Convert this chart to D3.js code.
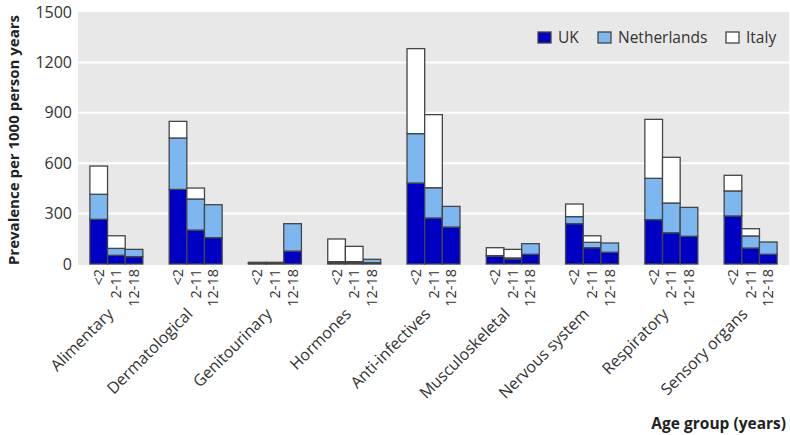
<!DOCTYPE html>
<html lang="en">
<head>
  <meta charset="UTF-8" />
  <title>Prevalence by age group</title>
  <script src="https://cdnjs.cloudflare.com/ajax/libs/d3/7.8.4/d3.min.js"></script>
  <style>
    body {
      margin: 0;
      background: #fff;
      font-family: "Open Sans", "Noto Sans", sans-serif;
      overflow: hidden;
    }
  </style>
</head>
<body>
  <svg id="chart" width="790" height="435"></svg>
  <script>
    const categories = ["Alimentary", "Dermatological", "Genitourinary", "Hormones",
      "Anti-infectives", "Musculoskeletal", "Nervous system", "Respiratory", "Sensory organs"];
    const ageGroups = ["<2", "2-11", "12-18"];
    const countries = ["UK", "Netherlands", "Italy"];

    // segment sizes per country, order per category: <2, 2-11, 12-18
    const uk = [
      266, 52, 44,
      444, 202, 157,
      3, 3, 77,
      8, 8, 8,
      482, 274, 220,
      46, 30, 58,
      240, 97, 70,
      264, 186, 165,
      286, 95, 58
    ];
    const netherlands = [
      149, 41, 43,
      306, 185, 196,
      3, 3, 163,
      6, 6, 20,
      294, 180, 123,
      4, 6, 63,
      42, 32, 55,
      246, 177, 172,
      149, 72, 73
    ];
    const italy = [
      168, 75, 0,
      99, 65, 0,
      4, 4, 0,
      135, 91, 0,
      506, 435, 0,
      47, 51, 0,
      75, 39, 0,
      351, 272, 0,
      93, 43, 0
    ];

    const colors = { "UK": "#0000c4", "Netherlands": "#7db7f0", "Italy": "#ffffff" };

    const rows = [];
    categories.forEach((c, i) => {
      ageGroups.forEach((a, j) => {
        const k = i * 3 + j;
        rows.push({ category: c, age: a, UK: uk[k], Netherlands: netherlands[k], Italy: italy[k] });
      });
    });

    const margin = { top: 12, right: 1, bottom: 171, left: 78 };
    const width = 790, height = 435;
    const svg = d3.select("#chart");

    const x0 = d3.scaleBand()
      .domain(categories)
      .range([margin.left, width - margin.right])
      .paddingInner(0.332)
      .paddingOuter(0.15);

    const x1 = d3.scaleBand()
      .domain(ageGroups)
      .range([0, x0.bandwidth()]);

    const y = d3.scaleLinear()
      .domain([0, 1500])
      .range([height - margin.bottom, margin.top]);

    // plot background
    svg.append("rect")
      .attr("x", margin.left)
      .attr("y", margin.top)
      .attr("width", width - margin.left - margin.right)
      .attr("height", y(0) - margin.top + 1)
      .attr("fill", "#e8e8e8");

    // gridlines
    svg.append("g")
      .selectAll("line")
      .data([300, 600, 900, 1200])
      .join("line")
      .attr("x1", margin.left)
      .attr("x2", width - margin.right)
      .attr("y1", d => y(d))
      .attr("y2", d => y(d))
      .attr("stroke", "#fff")
      .attr("stroke-width", 2);

    // y axis
    const yAxis = svg.append("g")
      .attr("transform", `translate(${margin.left},0)`)
      .call(d3.axisLeft(y)
        .tickValues([0, 300, 600, 900, 1200, 1500])
        .tickFormat(d3.format("d"))
        .tickSize(0)
        .tickPadding(6));
    yAxis.select(".domain").remove();
    yAxis.selectAll("text")
      .style("font-family", "'Open Sans', sans-serif")
      .style("font-size", "16px")
      .attr("fill", "#333");

    svg.append("text")
      .attr("transform", `translate(19,${(margin.top + y(0)) / 2 + 2}) rotate(-90)`)
      .attr("text-anchor", "middle")
      .style("font-size", "15px")
      .style("font-weight", "bold")
      .attr("fill", "#222")
      .text("Prevalence per 1000 person years");

    // stacked bars
    const series = d3.stack().keys(countries)(rows);

    svg.append("g")
      .selectAll("g")
      .data(series)
      .join("g")
      .attr("fill", d => colors[d.key])
      .selectAll("rect")
      .data(d => d.filter(s => s[1] - s[0] > 0))
      .join("rect")
      .attr("x", d => x0(d.data.category) + x1(d.data.age))
      .attr("y", d => y(d[1]))
      .attr("width", x1.bandwidth())
      .attr("height", d => y(d[0]) - y(d[1]))
      .attr("stroke", "#454545")
      .attr("stroke-width", 1.3);

    // age group tick labels
    const ageLabels = svg.append("g");
    categories.forEach(c => {
      ageGroups.forEach(a => {
        const cx = x0(c) + x1(a) + x1.bandwidth() / 2;
        ageLabels.append("text")
          .attr("transform", `translate(${cx + 5},${y(0) + 5}) rotate(-90)`)
          .attr("text-anchor", "end")
          .style("font-size", "14.5px")
          .attr("fill", "#333")
          .text(a);
      });
    });

    // category labels
    svg.append("g")
      .selectAll("text")
      .data(categories)
      .join("text")
      .attr("transform", d => `translate(${x0(d) + x0.bandwidth() / 2 - 2},${y(0) + 51}) rotate(-45)`)
      .attr("text-anchor", "end")
      .style("font-size", "16px")
      .attr("fill", "#333")
      .text(d => d);

    svg.append("text")
      .attr("x", 786)
      .attr("y", 429)
      .attr("text-anchor", "end")
      .style("font-size", "15.5px")
      .style("font-weight", "bold")
      .attr("fill", "#222")
      .text("Age group (years)");

    // legend
    const legendX = [538, 598, 726];
    const legend = svg.append("g")
      .selectAll("g")
      .data(countries)
      .join("g")
      .attr("transform", (d, i) => `translate(${legendX[i]},32)`);
    legend.append("rect")
      .attr("width", 13)
      .attr("height", 11)
      .attr("fill", d => colors[d])
      .attr("stroke", "#454545")
      .attr("stroke-width", 1.3);
    legend.append("text")
      .attr("x", 20)
      .attr("y", 11)
      .style("font-size", "15.5px")
      .attr("fill", "#333")
      .text(d => d);
  </script>
</body>
</html>
